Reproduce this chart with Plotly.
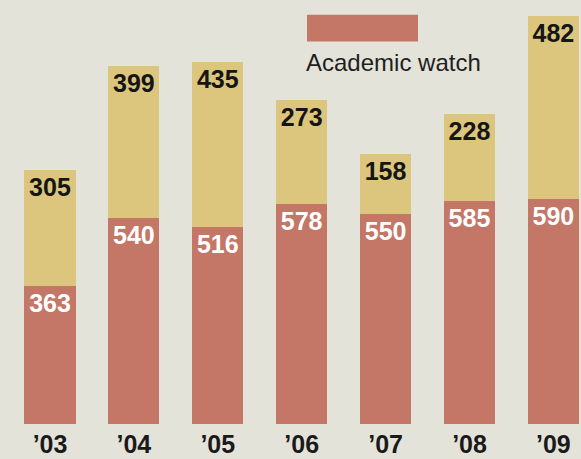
import plotly.graph_objects as go

years = ["’03", "’04", "’05", "’06", "’07", "’08", "’09"]
academic_watch = [363, 540, 516, 578, 550, 585, 590]
other_series = [305, 399, 435, 273, 158, 228, 482]

RED = "#c47667"
YELLOW = "#dcc67e"
BG = "#e4e3d9"

fig = go.Figure()
fig.add_trace(go.Bar(
    x=years, y=academic_watch, name="Academic watch",
    marker=dict(color=RED, line=dict(width=0)),
    text=[str(v) for v in academic_watch],
    textposition="inside", insidetextanchor="end",
    textfont=dict(family="Liberation Sans, Arial", size=25, color="white", weight="bold"),
    hoverinfo="skip",
))
fig.add_trace(go.Bar(
    x=years, y=other_series, name="Other",
    marker=dict(color=YELLOW, line=dict(width=0)),
    text=[str(v) for v in other_series],
    textposition="inside", insidetextanchor="end",
    textfont=dict(family="Liberation Sans, Arial", size=25, color="#151515", weight="bold"),
    hoverinfo="skip",
))

fig.update_layout(
    width=581, height=459,
    margin=dict(l=0, r=0, t=0, b=35),
    paper_bgcolor=BG, plot_bgcolor=BG,
    barmode="stack", bargap=0.39,
    showlegend=False,
    uniformtext=dict(minsize=20, mode="show"),
    xaxis=dict(
        range=[-0.596, 6.329], showgrid=False, zeroline=False, showline=False,
        ticks="", ticklabelstandoff=3,
        tickfont=dict(family="Liberation Sans, Arial", size=25, color="#1a1a1a", weight="bold"),
    ),
    yaxis=dict(range=[0, 1113], visible=False, showgrid=False, zeroline=False),
)

# legend drawn as a swatch + label
fig.add_shape(type="rect", xref="paper", yref="paper",
              x0=307/581, x1=418/581, y0=1-45/459, y1=1-16/459,
              fillcolor=RED, line=dict(width=0), layer="above")
fig.add_annotation(xref="paper", yref="paper", x=304/581, y=1-68/459,
                   xanchor="left", yanchor="middle", showarrow=False,
                   text="Academic watch",
                   font=dict(family="Liberation Sans, Arial", size=24, color="#1e1e1e"))

fig.write_html(
    "out.html",
    config={"displayModeBar": False},
    post_script="document.body.style.margin='0';document.body.style.background='%s';"
                "document.documentElement.style.overflow='hidden';" % BG,
)
